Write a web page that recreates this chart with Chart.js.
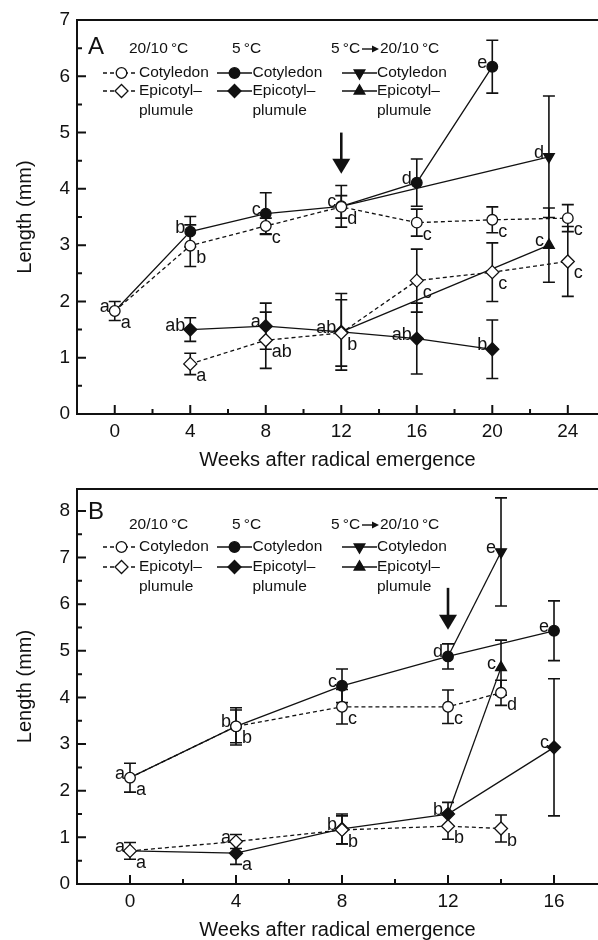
<!DOCTYPE html>
<html>
<head>
<meta charset="utf-8">
<script src="https://cdn.jsdelivr.net/npm/chart.js@4.4.1/dist/chart.umd.min.js"></script>
<style>
  html, body { margin: 0; padding: 0; background: #fff; }
  canvas { display: block; }
</style>
</head>
<body>
<canvas id="chartA" width="598" height="470"></canvas>
<canvas id="chartB" width="598" height="470"></canvas>
<script>
const FONT = '"Liberation Sans", Arimo, Arial, sans-serif';
const INK = '#111';

// ---------- panel A ----------
const weeksA20 = [0, 4, 8, 12, 16, 20, 24];
const cotA20 = [1.83, 2.99, 3.34, 3.68, 3.40, 3.45, 3.48];
const cotA20Sd = [0.17, 0.37, 0.14, 0.20, 0.24, 0.23, 0.24];
const cotA20Sig = ['a', 'b', 'c', 'd', 'c', 'c', 'c'];

const weeksA5 = [0, 4, 8, 12, 16, 20];
const cotA5 = [1.83, 3.24, 3.56, 3.69, 4.11, 6.17];
const cotA5Sd = [null, 0.27, 0.37, 0.37, 0.42, 0.47];
const cotA5Sig = ['a', 'b', 'c', 'c', 'd', 'e'];

const weeksAShift = [12, 23];
const cotAShift = [3.69, 4.57];
const cotAShiftSd = [null, 1.08];
const cotAShiftSig = ['', 'd'];
const epiAShift = [1.46, 3.00];
const epiAShiftSd = [null, 0.66];
const epiAShiftSig = ['', 'c'];

const weeksAEpi20 = [4, 8, 12, 16, 20, 24];
const epiA20 = [0.89, 1.31, 1.44, 2.37, 2.52, 2.71];
const epiA20Sd = [0.19, 0.50, 0.59, 0.56, 0.52, 0.62];
const epiA20Sig = ['a', 'ab', 'b', 'c', 'c', 'c'];

const weeksAEpi5 = [4, 8, 12, 16, 20];
const epiA5 = [1.50, 1.56, 1.46, 1.34, 1.15];
const epiA5Sd = [0.21, 0.41, 0.68, 0.63, 0.52];
const epiA5Sig = ['ab', 'a', 'ab', 'ab', 'b'];

// ---------- panel B ----------
const weeksB20 = [0, 4, 8, 12, 14];
const cotB20 = [2.28, 3.38, 3.80, 3.80, 4.10];
const cotB20Sd = [0.31, 0.40, 0.37, 0.36, 0.27];
const cotB20Sig = ['a', 'b', 'c', 'c', 'd'];
const epiB20 = [0.71, 0.91, 1.16, 1.24, 1.19];
const epiB20Sd = [0.18, 0.15, 0.30, 0.28, 0.29];
const epiB20Sig = ['a', 'a', 'b', 'b', 'b'];
const epiB20Pos = ['ul', 'ul', 'lr', 'lr', 'lr'];

const weeksB5 = [0, 4, 8, 12, 16];
const cotB5 = [2.28, 3.38, 4.25, 4.88, 5.43];
const cotB5Sd = [null, 0.35, 0.36, 0.27, 0.64];
const cotB5Sig = ['a', 'b', 'c', 'd', 'e'];
const epiB5 = [0.71, 0.66, 1.18, 1.50, 2.93];
const epiB5Sd = [null, 0.24, 0.32, 0.25, 1.47];
const epiB5Sig = ['a', 'a', 'b', 'b', 'c'];
const epiB5Pos = ['lr', 'lr', 'ul', 'ul', 'ul'];

const weeksBShift = [12, 14];
const cotBShift = [4.88, 7.12];
const cotBShiftSd = [null, 1.16];
const cotBShiftSig = ['', 'e'];
const epiBShift = [1.50, 4.64];
const epiBShiftSd = [null, 0.59];
const epiBShiftSig = ['', 'c'];

// ---------- styles ----------
const STYLES = {
  cot20: { pointStyle: 'circle', radius: 5.3, fill: '#fff', dash: [4, 3] },
  epi20: { pointStyle: 'rectRot', radius: 6.5, fill: '#fff', dash: [4, 3] },
  cot5: { pointStyle: 'circle', radius: 5.3, fill: INK, dash: [] },
  epi5: { pointStyle: 'rectRot', radius: 6.5, fill: INK, dash: [] },
  cotShift: { pointStyle: 'triangle', rotation: 180, radius: 6.2, fill: INK, dash: [] },
  epiShift: { pointStyle: 'triangle', rotation: 0, radius: 6.2, fill: INK, dash: [] },
};

function series(kind, weeks, vals, sd, sig, pos, skipFirst) {
  const s = STYLES[kind];
  const radii = weeks.map((w, i) => (skipFirst && i === 0 ? 0 : s.radius));
  return {
    label: kind,
    data: weeks.map((w, i) => ({ x: w, y: vals[i] })),
    sd, sig, pos,
    showLine: true,
    borderColor: INK,
    borderWidth: 1.3,
    borderDash: s.dash,
    pointStyle: s.pointStyle,
    rotation: s.rotation || 0,
    pointRadius: radii,
    pointHoverRadius: radii,
    pointBackgroundColor: s.fill,
    pointBorderColor: INK,
    pointBorderWidth: 1.3,
  };
}

// ---------- plugins ----------
const errorBars = {
  id: 'errorBars',
  beforeDatasetsDraw(chart) {
    const { ctx } = chart;
    const y = chart.scales.y;
    ctx.save();
    ctx.strokeStyle = INK;
    ctx.lineWidth = 1.6;
    chart.data.datasets.forEach((ds, di) => {
      const meta = chart.getDatasetMeta(di);
      ds.sd.forEach((sd, i) => {
        if (sd == null) return;
        const pt = meta.data[i];
        const v = ds.data[i].y;
        const top = y.getPixelForValue(v + sd);
        const bot = y.getPixelForValue(v - sd);
        ctx.beginPath();
        ctx.moveTo(pt.x, top); ctx.lineTo(pt.x, bot);
        ctx.moveTo(pt.x - 6, top); ctx.lineTo(pt.x + 6, top);
        ctx.moveTo(pt.x - 6, bot); ctx.lineTo(pt.x + 6, bot);
        ctx.stroke();
      });
    });
    ctx.restore();
  },
};

const sigLetters = {
  id: 'sigLetters',
  afterDatasetsDraw(chart) {
    const { ctx } = chart;
    ctx.save();
    ctx.fillStyle = INK;
    ctx.font = `18px ${FONT}`;
    ctx.textBaseline = 'alphabetic';
    chart.data.datasets.forEach((ds, di) => {
      const meta = chart.getDatasetMeta(di);
      ds.sig.forEach((txt, i) => {
        if (!txt) return;
        const pt = meta.data[i];
        const side = Array.isArray(ds.pos) ? ds.pos[i] : ds.pos;
        if (side === 'ul') {
          ctx.textAlign = 'right';
          ctx.fillText(txt, pt.x - 5, pt.y + 1);
        } else {
          ctx.textAlign = 'left';
          ctx.fillText(txt, pt.x + 6, pt.y + 17);
        }
      });
    });
    ctx.restore();
  },
};

// the "transfer" arrow above week 12
const transferArrow = {
  id: 'transferArrow',
  afterDatasetsDraw(chart, args, opts) {
    const { ctx, scales: { x, y } } = chart;
    const px = x.getPixelForValue(opts.week);
    const y0 = y.getPixelForValue(opts.from);
    const y1 = y.getPixelForValue(opts.to);
    ctx.save();
    ctx.strokeStyle = INK;
    ctx.fillStyle = INK;
    ctx.lineWidth = 2.6;
    ctx.beginPath();
    ctx.moveTo(px, y0);
    ctx.lineTo(px, y1 - 12);
    ctx.stroke();
    ctx.beginPath();
    ctx.moveTo(px - 9, y1 - 15);
    ctx.lineTo(px + 9, y1 - 15);
    ctx.lineTo(px, y1);
    ctx.closePath();
    ctx.fill();
    ctx.restore();
  },
};

const legendCols = [
  { head: '20/10\u2009°C', headX: 129, line: [103, 137], markX: 121.5, textX: 139, kinds: ['cot20', 'epi20'] },
  { head: '5\u2009°C', headX: 232, line: [217, 252], markX: 234.5, textX: 252.5, kinds: ['cot5', 'epi5'] },
  { head: null, headX: 331, line: [342, 377], markX: 359.5, textX: 377, kinds: ['cotShift', 'epiShift'] },
];

const panelLegend = {
  id: 'panelLegend',
  afterDraw(chart, args, opts) {
    const { ctx } = chart;
    ctx.save();
    ctx.fillStyle = INK;
    ctx.strokeStyle = INK;
    ctx.textBaseline = 'middle';
    ctx.textAlign = 'left';

    ctx.font = `24px ${FONT}`;
    ctx.fillText(opts.letter, 88, opts.letterY);

    ctx.font = `15.5px ${FONT}`;
    legendCols.forEach((col) => {
      if (col.head) {
        ctx.fillText(col.head, col.headX, opts.headY);
      } else {
        ctx.fillText('5\u2009°C', col.headX, opts.headY);
        ctx.lineWidth = 1.4;
        ctx.beginPath();
        ctx.moveTo(362, opts.headY);
        ctx.lineTo(373, opts.headY);
        ctx.stroke();
        ctx.beginPath();
        ctx.moveTo(372, opts.headY - 3.5);
        ctx.lineTo(379, opts.headY);
        ctx.lineTo(372, opts.headY + 3.5);
        ctx.closePath();
        ctx.fill();
        ctx.fillText('20/10\u2009°C', 380, opts.headY);
      }
      const rows = [opts.row1Y, opts.row2Y];
      const texts = ['Cotyledon', 'Epicotyl\u2013'];
      col.kinds.forEach((kind, r) => {
        const s = STYLES[kind];
        const ry = rows[r];
        ctx.lineWidth = 1.3;
        ctx.setLineDash(s.dash);
        ctx.beginPath();
        ctx.moveTo(col.line[0], ry);
        ctx.lineTo(col.line[1], ry);
        ctx.stroke();
        ctx.setLineDash([]);
        ctx.fillStyle = s.fill;
        Chart.helpers.drawPoint(ctx, {
          pointStyle: s.pointStyle, radius: s.radius, rotation: s.rotation || 0, borderWidth: 1.3,
        }, col.markX, ry);
        ctx.fillStyle = INK;
        ctx.fillText(texts[r], col.textX, ry);
      });
      ctx.fillText('plumule', col.textX, opts.row3Y);
    });
    ctx.restore();
  },
};

// axes frame with inward ticks
const frame = {
  id: 'frame',
  afterDraw(chart) {
    const { ctx, chartArea: a, scales: { x, y } } = chart;
    ctx.save();
    ctx.strokeStyle = INK;
    ctx.lineWidth = 2;
    ctx.beginPath();
    ctx.moveTo(a.right + 2, a.top);
    ctx.lineTo(a.left, a.top);
    ctx.lineTo(a.left, a.bottom);
    ctx.lineTo(a.right + 2, a.bottom);
    ctx.stroke();
    ctx.beginPath();
    x.ticks.forEach((t) => {
      if (t.value < 0) return;
      const px = x.getPixelForValue(t.value);
      const len = Math.abs(t.value % 4) < 1e-6 ? 9 : 5;
      ctx.moveTo(px, a.bottom);
      ctx.lineTo(px, a.bottom - len);
    });
    y.ticks.forEach((t) => {
      const py = y.getPixelForValue(t.value);
      const len = Math.abs(t.value - Math.round(t.value)) < 1e-6 ? 9 : 5;
      ctx.moveTo(a.left, py);
      ctx.lineTo(a.left + len, py);
    });
    ctx.stroke();
    ctx.restore();
  },
};

function makeChart(id, cfg) {
  return new Chart(document.getElementById(id), {
    type: 'scatter',
    data: { datasets: cfg.datasets },
    options: {
      responsive: false,
      animation: false,
      devicePixelRatio: 1,
      layout: { autoPadding: false, padding: { top: cfg.top, left: 0, right: 0, bottom: 0 } },
      plugins: {
        legend: { display: false },
        tooltip: { enabled: false },
        transferArrow: cfg.arrow,
        panelLegend: cfg.legend,
      },
      scales: {
        x: {
          type: 'linear',
          min: -2,
          max: cfg.xMax,
          grid: { display: false, drawTicks: false },
          border: { display: false },
          ticks: {
            stepSize: 2,
            includeBounds: false,
            autoSkip: false,
            maxRotation: 0,
            padding: 6,
            color: INK,
            font: { family: FONT, size: 19 },
            callback: (v) => (v >= 0 && Math.abs(v % 4) < 1e-6 ? String(v) : ''),
          },
          title: {
            display: true,
            text: 'Weeks after radical emergence',
            color: INK,
            font: { family: FONT, size: 20, lineHeight: 1 },
            padding: 0,
          },
          afterFit: (s) => { s.height = 56; s.paddingLeft = 0; s.paddingRight = 0; },
        },
        y: {
          type: 'linear',
          min: 0,
          max: cfg.yMax,
          grid: { display: false, drawTicks: false },
          border: { display: false },
          ticks: {
            stepSize: 0.5,
            includeBounds: false,
            autoSkip: false,
            padding: 7,
            color: INK,
            font: { family: FONT, size: 19 },
            callback: (v) => (Math.abs(v - Math.round(v)) < 1e-6 ? String(Math.round(v)) : ''),
          },
          title: {
            display: true,
            text: 'Length (mm)',
            color: INK,
            font: { family: FONT, size: 20 },
            padding: { top: 13, bottom: 0 },
          },
          afterFit: (s) => { s.width = 77; s.paddingTop = 0; s.paddingBottom = 0; },
        },
      },
    },
    plugins: [errorBars, sigLetters, transferArrow, panelLegend, frame],
  });
}

makeChart('chartA', {
  top: 20,
  xMax: 25.6,
  yMax: 7,
  arrow: { week: 12, from: 5.0, to: 4.27 },
  legend: { letter: 'A', letterY: 47, headY: 49, row1Y: 73, row2Y: 91, row3Y: 111 },
  datasets: [
    series('cot20', weeksA20, cotA20, cotA20Sd, cotA20Sig, 'lr', false),
    series('epi20', weeksAEpi20, epiA20, epiA20Sd, epiA20Sig, 'lr', false),
    series('cot5', weeksA5, cotA5, cotA5Sd, cotA5Sig, 'ul', true),
    series('epi5', weeksAEpi5, epiA5, epiA5Sd, epiA5Sig, 'ul', false),
    series('cotShift', weeksAShift, cotAShift, cotAShiftSd, cotAShiftSig, 'ul', true),
    series('epiShift', weeksAShift, epiAShift, epiAShiftSd, epiAShiftSig, 'ul', true),
  ],
});

makeChart('chartB', {
  top: 19,
  xMax: 17.66,
  yMax: 8.47,
  arrow: { week: 12, from: 6.35, to: 5.45 },
  legend: { letter: 'B', letterY: 42, headY: 55, row1Y: 77, row2Y: 97, row3Y: 117 },
  datasets: [
    series('cot20', weeksB20, cotB20, cotB20Sd, cotB20Sig, 'lr', false),
    series('epi20', weeksB20, epiB20, epiB20Sd, epiB20Sig, epiB20Pos, false),
    series('cot5', weeksB5, cotB5, cotB5Sd, cotB5Sig, 'ul', true),
    series('epi5', weeksB5, epiB5, epiB5Sd, epiB5Sig, epiB5Pos, true),
    series('cotShift', weeksBShift, cotBShift, cotBShiftSd, cotBShiftSig, 'ul', true),
    series('epiShift', weeksBShift, epiBShift, epiBShiftSd, epiBShiftSig, 'ul', true),
  ],
});
</script>
</body>
</html>
